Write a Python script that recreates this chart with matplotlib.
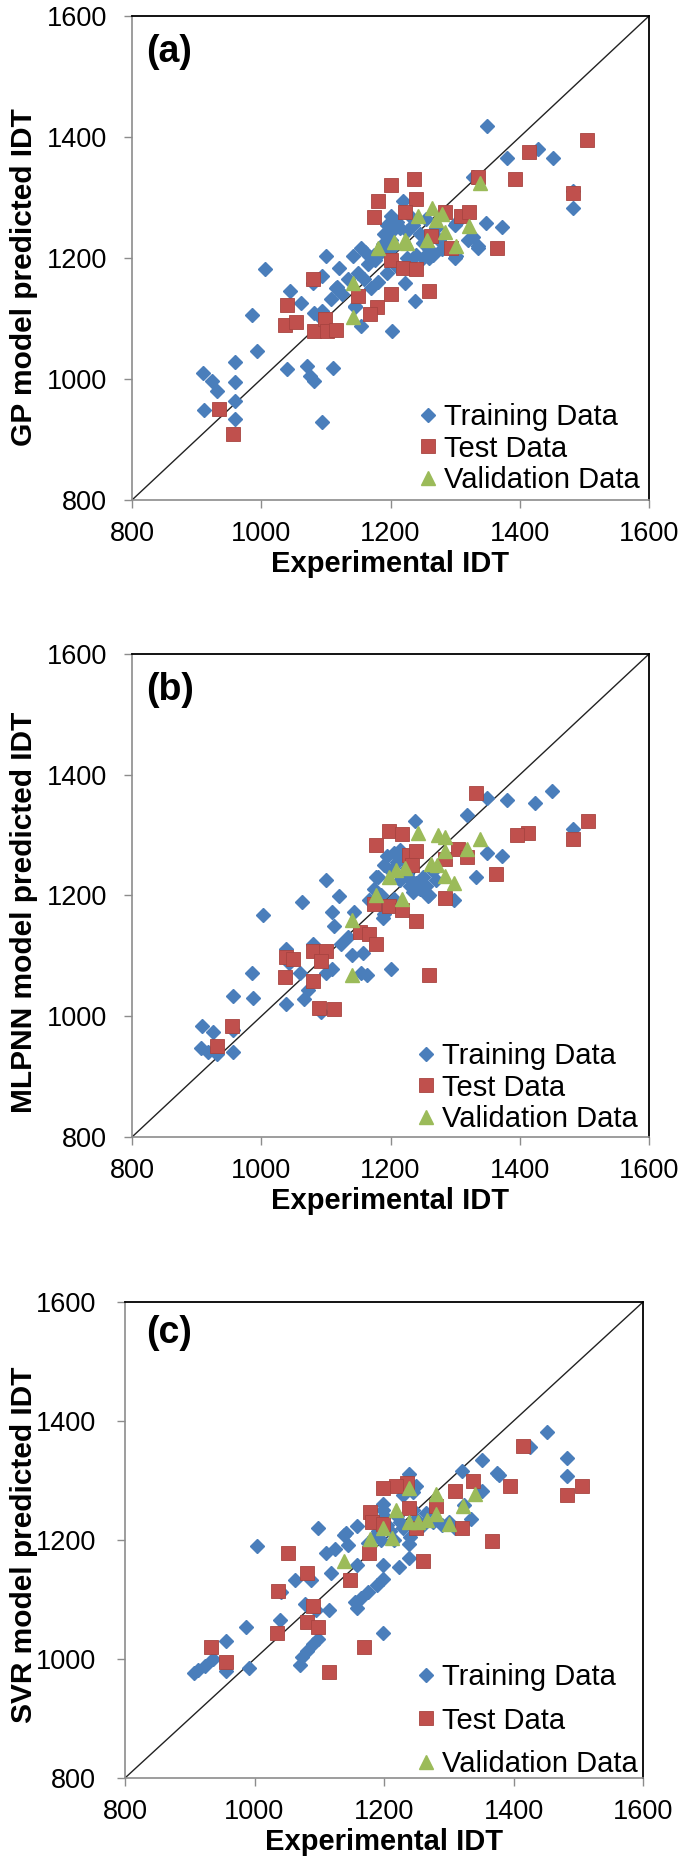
import matplotlib
matplotlib.use("Agg")
import matplotlib.pyplot as plt
from matplotlib.lines import Line2D

plt.rcParams['font.family'] = ['Liberation Sans', 'DejaVu Sans']

# ---------------- data ----------------
ticks = [800, 1000, 1200, 1400, 1600]
panel_labels = ["(a)", "(b)", "(c)"]
y_labels = ["GP model predicted IDT", "MLPNN model predicted IDT", "SVR model predicted IDT"]
x_label = "Experimental IDT"
series_names = ["Training Data", "Test Data", "Validation Data"]

# Panel (a) GP
a_train_x = [1350, 1380, 1428, 1451, 1328, 1482, 1482, 1348, 1373, 1335, 1328, 1302, 1301, 1260, 1238, 1223,
             1203, 1220, 1200, 1200, 1189, 1176, 1155, 1142, 1159, 1155, 1145, 1121, 1100, 1117, 1108, 1094,
             1081, 1094, 1080, 1061, 1044, 1006, 985, 993, 959, 959, 959, 959, 910, 924, 932, 912, 1040, 1071,
             1075, 1082, 1111, 1094, 1094,
             1190, 1195, 1200, 1210, 1215, 1225, 1230, 1235, 1245, 1250, 1255, 1260, 1265, 1270, 1275, 1280,
             1240, 1225, 1200, 1185, 1175, 1165, 1160, 1150, 1135, 1120, 1115, 1125, 1145, 1170, 1180, 1195,
             1210, 1230, 1250, 1265, 1300, 1320, 1335, 1300]
a_train_y = [1418, 1365, 1380, 1365, 1334, 1283, 1310, 1258, 1251, 1217, 1235, 1204, 1258, 1200, 1129, 1158,
             1080, 1295, 1269, 1243, 1223, 1196, 1217, 1203, 1165, 1087, 1119, 1184, 1204, 1152, 1132, 1113,
             1109, 1171, 1158, 1126, 1145, 1181, 1106, 1046, 1028, 995, 963, 934, 1010, 997, 980, 948, 1016, 1021,
             1005, 997, 1019, 929, 1100,
             1240, 1255, 1230, 1260, 1250, 1245, 1270, 1255, 1240, 1225, 1265, 1215, 1240, 1250, 1230, 1215,
             1205, 1200, 1215, 1210, 1205, 1190, 1210, 1175, 1165, 1145, 1150, 1140, 1120, 1150, 1160, 1175,
             1185, 1190, 1200, 1205, 1200, 1230, 1220, 1255]
a_test_x = [1504, 1414, 1392, 1335, 1482, 1237, 1200, 1180, 1240, 1223, 1284, 1309, 1321, 1175, 1262, 1294,
            1365, 1200, 1219, 1240, 1260, 1200, 1149, 1179, 1168, 1080, 1040, 1037, 1054, 1082, 1098, 1101,
            1115, 935, 956]
a_test_y = [1395, 1376, 1331, 1334, 1308, 1331, 1321, 1295, 1298, 1276, 1276, 1270, 1276, 1267, 1237, 1217,
            1216, 1196, 1183, 1181, 1145, 1140, 1138, 1119, 1108, 1165, 1122, 1090, 1094, 1080, 1100, 1080,
            1081, 950, 909]
a_val_x = [1338, 1321, 1302, 1264, 1280, 1284, 1242, 1256, 1223, 1206, 1180, 1142, 1142, 1226, 1270]
a_val_y = [1324, 1253, 1220, 1282, 1272, 1243, 1270, 1230, 1230, 1227, 1217, 1158, 1103, 1224, 1262]

# Panel (b) MLPNN
b_train_x = [1450, 1423, 1380, 1349, 1319, 1238, 1349, 1373, 1332, 1299, 1483, 1258, 1241, 1231, 1177, 1167,
             1188, 1201, 1164, 1154, 1140, 1157, 1144, 1134, 1124, 1120, 1110, 1113, 1100, 1100, 1110, 1080,
             1063, 1060, 1073, 1066, 1039, 1043, 1039, 1002, 985, 988, 956, 908, 925, 907, 918, 931, 956, 956,
             1093,
             1190, 1195, 1200, 1205, 1210, 1215, 1220, 1225, 1230, 1235, 1240, 1245, 1250, 1255, 1260, 1265,
             1270, 1180, 1175, 1185, 1195, 1190, 1205, 1215, 1225, 1185]
b_train_y = [1373, 1354, 1358, 1361, 1334, 1324, 1271, 1265, 1230, 1193, 1310, 1199, 1213, 1226, 1230, 1193,
             1162, 1078, 1068, 1071, 1102, 1105, 1172, 1132, 1119, 1199, 1172, 1149, 1226, 1071, 1078, 1119,
             1189, 1071, 1044, 1028, 1112, 1088, 1021, 1167, 1071, 1031, 1034, 984, 974, 948, 940, 937, 941, 977,
             1007,
             1250, 1265, 1240, 1270, 1255, 1275, 1260, 1245, 1215, 1205, 1220, 1210, 1230, 1215, 1200, 1240,
             1225, 1230, 1210, 1200, 1180, 1170, 1195, 1225, 1235, 1185]
b_test_x = [1333, 1506, 1413, 1395, 1483, 1363, 1198, 1218, 1178, 1228, 1239, 1234, 1284, 1305, 1319, 1284,
            1174, 1198, 1218, 1239, 1153, 1167, 1177, 1260, 1039, 1049, 1080, 1100, 1093, 1036, 1080, 1090,
            1112, 955, 931]
b_test_y = [1369, 1323, 1303, 1300, 1294, 1236, 1307, 1302, 1283, 1267, 1274, 1251, 1260, 1277, 1263, 1196,
            1186, 1182, 1176, 1158, 1139, 1137, 1119, 1069, 1098, 1095, 1108, 1108, 1092, 1065, 1059, 1014,
            1012, 984, 950]
b_val_x = [1338, 1319, 1284, 1273, 1285, 1242, 1263, 1272, 1284, 1299, 1208, 1222, 1198, 1178, 1218, 1140, 1140]
b_val_y = [1294, 1277, 1273, 1300, 1297, 1304, 1253, 1250, 1233, 1221, 1243, 1246, 1230, 1200, 1194, 1159, 1068]

# Panel (c) SVR
c_train_x = [1452, 1425, 1482, 1482, 1351, 1320, 1378, 1375, 1351, 1335, 1324, 1239, 1250, 1199, 1199, 1239,
             1239, 1223, 1199, 1199, 1189, 1175, 1164, 1155, 1158, 1199, 1158, 1142, 1145, 1158, 1138, 1098,
             1111, 1125, 1118, 1115, 1095, 1088, 1078, 1098, 1091, 1081, 1074, 1071, 1063, 1039, 1041, 1004,
             987, 991, 956, 956, 936, 923, 913, 906,
             1200, 1205, 1210, 1220, 1225, 1230, 1240, 1245, 1250, 1260, 1265, 1275, 1290, 1300, 1310, 1185,
             1190, 1195, 1215, 1230, 1245, 1240, 1235, 1185, 1175]
c_train_y = [1381, 1356, 1338, 1308, 1334, 1316, 1310, 1312, 1283, 1236, 1258, 1311, 1290, 1260, 1250, 1194,
             1170, 1155, 1158, 1135, 1125, 1112, 1102, 1095, 1086, 1043, 1224, 1211, 1191, 1158, 1208, 1221,
             1178, 1185, 1145, 1082, 1082, 1132, 1092, 1033, 1026, 1013, 1003, 990, 1132, 1066, 1112, 1190,
             1054, 985, 1030, 980, 1000, 988, 981, 977,
             1240, 1225, 1215, 1240, 1230, 1220, 1205, 1250, 1235, 1225, 1245, 1230, 1225, 1230, 1220, 1230,
             1215, 1200, 1200, 1275, 1280, 1290, 1300, 1205, 1195]
c_test_x = [1415, 1506, 1482, 1394, 1337, 1310, 1320, 1367, 1236, 1219, 1199, 1239, 1280, 1250, 1179, 1182,
            1199, 1177, 1260, 1148, 1169, 1081, 1051, 1037, 1034, 1090, 1081, 1098, 1115, 933, 956]
c_test_y = [1358, 1290, 1275, 1290, 1300, 1283, 1221, 1199, 1295, 1291, 1287, 1254, 1257, 1221, 1247, 1231,
            1227, 1178, 1165, 1133, 1021, 1145, 1178, 1115, 1043, 1089, 1062, 1053, 978, 1020, 995]
c_val_x = [1341, 1322, 1280, 1239, 1300, 1280, 1266, 1253, 1239, 1219, 1199, 1212, 1179, 1138]
c_val_y = [1278, 1257, 1277, 1287, 1227, 1244, 1234, 1231, 1231, 1250, 1221, 1204, 1201, 1165]

panels = [
    (a_train_x, a_train_y, a_test_x, a_test_y, a_val_x, a_val_y),
    (b_train_x, b_train_y, b_test_x, b_test_y, b_val_x, b_val_y),
    (c_train_x, c_train_y, c_test_x, c_test_y, c_val_x, c_val_y),
]

# ---------------- layout / style ----------------
W, H = 685, 1871
fig = plt.figure(figsize=(W / 100, H / 100), dpi=100)
boxes = [(132, 16, 649, 500), (132, 654, 649, 1137), (125, 1302, 643, 1778)]
legend_spacing = [0.12, 0.12, 0.53]
legend_anchor = [(0.983, 0.012), (0.978, 0.008), (0.989, 0.0)]
ylabel_pad = [6.5, 6.5, -1.5]
ylabel_y = [0.46, 0.465, 0.49]
ytick_pad = [12, 12, 15]
plabel_pos = [(0.027, 0.925), (0.027, 0.925), (0.04, 0.935)]

c_train = "#4A7EBB"
c_test = "#C0504D"
c_val = "#9BBB59"

for i, (bx, data) in enumerate(zip(boxes, panels)):
    x0, y0, x1, y1 = bx
    ax = fig.add_axes([x0 / W, 1 - y1 / H, (x1 - x0) / W, (y1 - y0) / H])
    trx, try_, tex, tey, vax, vay = data
    ax.plot([ticks[0], ticks[-1]], [ticks[0], ticks[-1]], color="#222222", lw=1.0, zorder=1)
    ax.plot(trx, try_, linestyle="none", marker="D", ms=7.2, color=c_train, mec=c_train, zorder=2)
    ax.plot(tex, tey, linestyle="none", marker="s", ms=10.5, color=c_test, mec="#A84440", mew=0.6, zorder=3)
    ax.plot(vax, vay, linestyle="none", marker="^", ms=9.5, color=c_val, mec=c_val, zorder=4)
    ax.set_xlim(ticks[0], ticks[-1])
    ax.set_ylim(ticks[0], ticks[-1])
    ax.set_xticks(ticks)
    ax.set_yticks(ticks)
    ax.tick_params(direction="out", length=6, width=1.0, color="#8C8C8C", labelsize=19.5)
    ax.tick_params(axis="x", pad=9)
    ax.tick_params(axis="y", pad=ytick_pad[i])
    for s in ("left", "bottom"):
        ax.spines[s].set_color("#8C8C8C")
        ax.spines[s].set_linewidth(1.2)
    for s in ("top", "right"):
        ax.spines[s].set_color("black")
        ax.spines[s].set_linewidth(1.3)
    ax.set_xlabel(x_label, fontsize=21, fontweight="bold", labelpad=2)
    ax.set_ylabel(y_labels[i], fontsize=21.5, fontweight="bold", labelpad=ylabel_pad[i])
    ax.yaxis.label.set_y(ylabel_y[i])
    ax.text(plabel_pos[i][0], plabel_pos[i][1], panel_labels[i], transform=ax.transAxes, fontsize=27,
            fontweight="bold", ha="left", va="center")
    handles = [
        Line2D([], [], linestyle="none", marker="D", ms=7.2, color=c_train),
        Line2D([], [], linestyle="none", marker="s", ms=10.5, color=c_test, mec="#A84440", mew=0.6),
        Line2D([], [], linestyle="none", marker="^", ms=9.5, color=c_val),
    ]
    ax.legend(handles, series_names, loc="lower right", frameon=False, fontsize=21,
              handlelength=0.6, handletextpad=0.25, labelspacing=legend_spacing[i],
              borderaxespad=0.0, borderpad=0.0, bbox_to_anchor=legend_anchor[i])

fig.savefig("out.png", dpi=100, facecolor="white")
